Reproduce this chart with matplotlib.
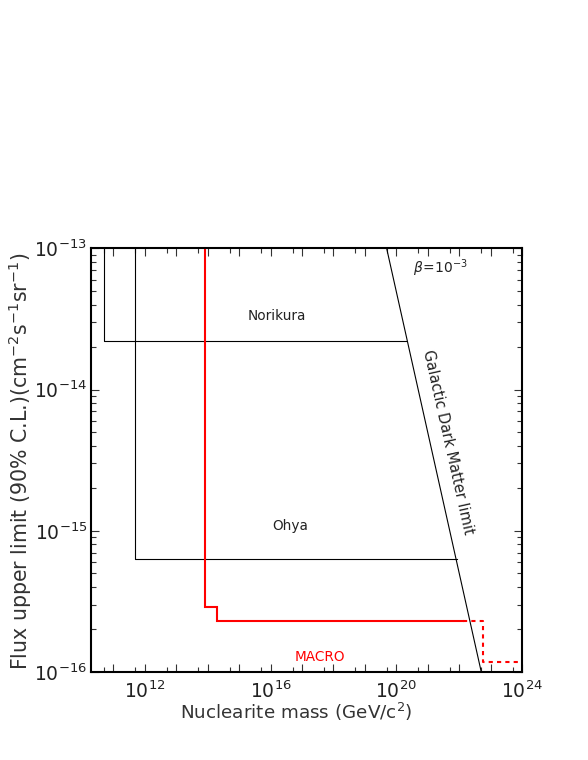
import matplotlib
matplotlib.use("Agg")
import matplotlib.pyplot as plt
import numpy as np
from matplotlib.ticker import FixedLocator, NullFormatter, LogLocator

plt.rcParams['font.family'] = ['DejaVu Sans']
plt.rcParams['mathtext.fontset'] = 'dejavusans'

# ---- data ----
norikura_m = [5.0e10, 5.0e10, 2.0e20]
norikura_f = [1.0e-13, 2.2e-14, 2.2e-14]

ohya_m = [4.9e11, 4.9e11, 8.5e21]
ohya_f = [1.0e-13, 6.3e-16, 6.3e-16]

dm_m = [4.9e19, 5.0e22]
dm_f = [1.0e-13, 1.0e-16]

macro_solid_m = [8.2e13, 8.2e13, 2.0e14, 2.0e14, 1.35e22]
macro_solid_f = [1.0e-13, 2.9e-16, 2.9e-16, 2.3e-16, 2.3e-16]

macro_dash_m = [1.35e22, 5.6e22, 5.6e22, 1.0e24]
macro_dash_f = [2.3e-16, 2.3e-16, 1.17e-16, 1.17e-16]

xlim = (2.0e10, 1.0e24)
ylim = (1.0e-16, 1.0e-13)
x_labeled = [1e12, 1e16, 1e20, 1e24]
y_labeled = [1e-16, 1e-15, 1e-14, 1e-13]

W, H = 588, 760
fig = plt.figure(figsize=(W / 100, H / 100), dpi=100)
L, R, T, B = 91.3, 522.2, 248.3, 672.0
ax = fig.add_axes([L / W, 1 - B / H, (R - L) / W, (B - T) / H])
ax.set_xscale('log')
ax.set_yscale('log')
ax.set_xlim(*xlim)
ax.set_ylim(*ylim)

ax.plot(norikura_m, norikura_f, color='black', lw=0.8)
ax.plot(ohya_m, ohya_f, color='black', lw=0.8)
ax.plot(dm_m, dm_f, color='black', lw=0.8)
ax.plot(macro_solid_m, macro_solid_f, color='red', lw=1.5, solid_joinstyle='miter')
ax.plot(macro_dash_m, macro_dash_f, color='red', lw=1.5, ls=(0, (2, 2)))

for s in ax.spines.values():
    s.set_linewidth(1.5)

# ticks
xmaj = [10.0 ** k for k in range(11, 24)]
xmin = [5 * 10.0 ** k for k in range(10, 24)]
ax.xaxis.set_major_locator(FixedLocator(xmaj + [1e24]))
ax.xaxis.set_minor_locator(FixedLocator(xmin))
ax.set_xticklabels([(r'$10^{%d}$' % int(round(np.log10(v)))) if v in x_labeled else '' for v in xmaj + [1e24]])
ax.xaxis.set_minor_formatter(NullFormatter())

ax.yaxis.set_major_locator(FixedLocator(y_labeled))
ax.yaxis.set_minor_locator(LogLocator(base=10, subs=np.arange(2, 10)))
ax.set_yticklabels([r'$10^{%d}$' % int(round(np.log10(v))) for v in y_labeled])
ax.yaxis.set_minor_formatter(NullFormatter())

ax.tick_params(which='both', direction='in', top=True, right=True, width=0.8, color='#333333')
ax.tick_params(which='major', length=6)
ax.tick_params(which='minor', length=3.5)
ax.tick_params(axis='x', which='major', labelsize=13.5, pad=6, labelcolor='#222222')
ax.tick_params(axis='y', which='major', labelsize=13.5, pad=3, labelcolor='#222222')

# axis titles
fig.text(296 / W, 1 - 712 / H, r'Nuclearite mass (GeV/c$^{2}$)', ha='center', va='center',
         fontsize=13.2, color='#333333')
fig.text(20 / W, 1 - 461 / H,
         r'Flux upper limit (90% C.L.)(cm$^{-2}$s$^{-1}$sr$^{-1}$)',
         ha='center', va='center', rotation=90, fontsize=14.8, color='#333333')

# annotations
fig.text(277 / W, 1 - 316 / H, 'Norikura', ha='center', va='center', fontsize=9.8, color='#222222')
fig.text(290 / W, 1 - 526 / H, 'Ohya', ha='center', va='center', fontsize=9.8, color='#222222')
fig.text(320 / W, 1 - 657 / H, 'MACRO', ha='center', va='center', fontsize=9.8, color='red')
fig.text(440 / W, 1 - 268 / H, r'$\beta\!=\!10^{-3}$', ha='center', va='center', fontsize=10, color='#222222')
fig.text(448 / W, 1 - 442 / H, 'Galactic Dark Matter limit', ha='center', va='center',
         rotation=-77.4, rotation_mode='anchor', fontsize=10.5, color='#222222')

fig.savefig('out.png', dpi=100)
